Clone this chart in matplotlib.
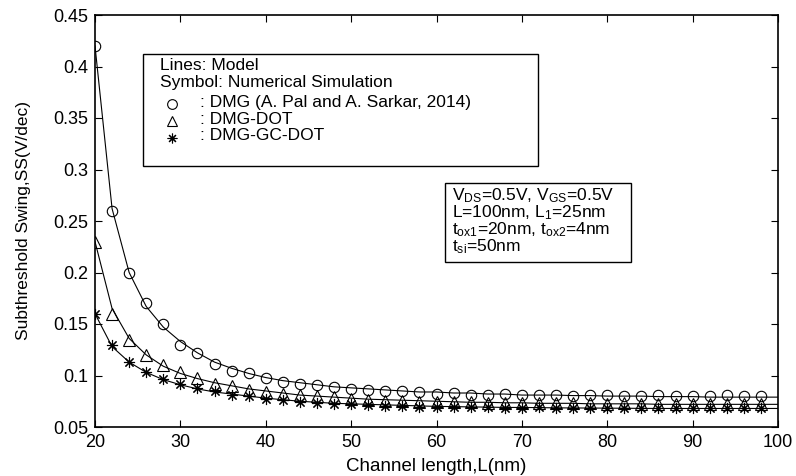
import matplotlib
matplotlib.use("Agg")
import matplotlib.pyplot as plt
from matplotlib.lines import Line2D
from matplotlib.patches import Rectangle
from matplotlib.ticker import FuncFormatter

plt.rcParams["font.family"] = ["Liberation Sans", "DejaVu Sans"]
plt.rcParams["mathtext.fontset"] = "custom"
plt.rcParams["mathtext.rm"] = "Liberation Sans"
plt.rcParams["mathtext.it"] = "Liberation Sans"

# Numerical simulation points (symbols), L = 20..98 nm
L_sim = [20, 22, 24, 26, 28, 30, 32, 34, 36, 38, 40, 42, 44, 46, 48, 50, 52, 54, 56, 58,
         60, 62, 64, 66, 68, 70, 72, 74, 76, 78, 80, 82, 84, 86, 88, 90, 92, 94, 96, 98]
ss_dmg_sim = [0.420, 0.260, 0.200, 0.170, 0.150, 0.130, 0.122, 0.111, 0.104, 0.102,
              0.098, 0.094, 0.092, 0.091, 0.089, 0.087, 0.086, 0.085, 0.085, 0.0835,
              0.0825, 0.083, 0.0815, 0.0815, 0.0825, 0.081, 0.081, 0.0815, 0.0805, 0.081,
              0.081, 0.0805, 0.0805, 0.081, 0.0805, 0.0805, 0.0805, 0.081, 0.0805, 0.0805]
ss_dot_sim = [0.230, 0.160, 0.134, 0.120, 0.110, 0.103, 0.098, 0.092, 0.090, 0.086,
              0.0835, 0.082, 0.081, 0.080, 0.079, 0.077, 0.076, 0.0755, 0.075, 0.0745,
              0.0745, 0.074, 0.074, 0.0735, 0.0735, 0.073, 0.0735, 0.073, 0.073, 0.073,
              0.0725, 0.073, 0.0725, 0.0725, 0.0725, 0.0725, 0.0725, 0.0725, 0.0725, 0.0725]
ss_gcdot_sim = [0.160, 0.130, 0.1135, 0.103, 0.097, 0.0916, 0.088, 0.0845, 0.0815, 0.0797,
                0.0775, 0.0758, 0.0742, 0.0732, 0.0723, 0.072, 0.071, 0.0703, 0.070, 0.0695,
                0.069, 0.069, 0.069, 0.069, 0.0685, 0.0685, 0.069, 0.0685, 0.0685, 0.0685,
                0.068, 0.0685, 0.068, 0.0685, 0.068, 0.068, 0.068, 0.068, 0.068, 0.068]

# Model curves (lines), L = 20..100 nm
L_model = [20, 22, 24, 26, 28, 30, 32, 34, 36, 38, 40, 42, 44, 46, 48, 50, 52, 54, 56, 58,
           60, 62, 64, 66, 68, 70, 72, 74, 76, 78, 80, 82, 84, 86, 88, 90, 92, 94, 96, 98, 100]
ss_dmg_model = [0.420, 0.262, 0.200, 0.167, 0.147, 0.133, 0.122, 0.113, 0.107, 0.102,
                0.098, 0.095, 0.093, 0.091, 0.089, 0.088, 0.087, 0.086, 0.085, 0.084,
                0.084, 0.083, 0.083, 0.082, 0.082, 0.081, 0.081, 0.081, 0.0805, 0.0805,
                0.080, 0.080, 0.080, 0.0795, 0.0795, 0.0795, 0.079, 0.079, 0.079, 0.079, 0.079]
ss_dot_model = [0.230, 0.165, 0.136, 0.120, 0.109, 0.102, 0.097, 0.093, 0.090, 0.087,
                0.085, 0.083, 0.081, 0.080, 0.079, 0.078, 0.077, 0.0765, 0.076, 0.0755,
                0.075, 0.0745, 0.074, 0.074, 0.0735, 0.0735, 0.073, 0.073, 0.073, 0.0725,
                0.0725, 0.0725, 0.0725, 0.072, 0.072, 0.072, 0.072, 0.072, 0.072, 0.072, 0.072]
ss_gcdot_model = [0.160, 0.128, 0.113, 0.103, 0.096, 0.091, 0.087, 0.084, 0.082, 0.080,
                  0.078, 0.0765, 0.075, 0.074, 0.073, 0.0725, 0.072, 0.0715, 0.071, 0.0705,
                  0.070, 0.0698, 0.0695, 0.0693, 0.069, 0.069, 0.0688, 0.0686, 0.0685, 0.0684,
                  0.0683, 0.0682, 0.0681, 0.068, 0.068, 0.068, 0.068, 0.068, 0.068, 0.068, 0.068]

x_ticks = [20, 30, 40, 50, 60, 70, 80, 90, 100]
y_ticks = [0.05, 0.1, 0.15, 0.2, 0.25, 0.3, 0.35, 0.4, 0.45]

W, H = 796, 476
fig = plt.figure(figsize=(W / 100, H / 100), dpi=100)
ax = fig.add_axes([95 / W, 1 - 427 / H, (778 - 95) / W, (427 - 15) / H])

star = (8, 2, 0)
ax.plot(L_model, ss_dmg_model, color="black", lw=0.8)
ax.plot(L_model, ss_dot_model, color="black", lw=0.8)
ax.plot(L_model, ss_gcdot_model, color="black", lw=0.8)
ax.plot(L_sim, ss_dmg_sim, ls="none", marker="o", ms=7.5, mfc="none", mec="black", mew=0.8)
ax.plot(L_sim, ss_dot_sim, ls="none", marker="^", ms=8, mfc="none", mec="black", mew=0.8)
ax.plot(L_sim, ss_gcdot_sim, ls="none", marker=star, ms=8, mec="black", mew=0.8)

ax.set_xlim(20, 100)
ax.set_ylim(0.05, 0.45)
ax.set_xticks(x_ticks)
ax.set_yticks(y_ticks)
ax.yaxis.set_major_formatter(FuncFormatter(lambda v, p: "%g" % v))
ax.tick_params(direction="in", length=5, width=0.8, top=True, right=True,
               labelsize=13, pad=5)
for s in ax.spines.values():
    s.set_linewidth(1.2)

ax.set_xlabel("Channel length,L(nm)", fontsize=13.5, labelpad=5)
ax.set_ylabel("Subthreshold Swing,SS(V/dec)", fontsize=12.5, labelpad=16)


def fx(x):
    return x / W


def fy(y):
    return 1 - y / H


# legend box
fig.add_artist(Rectangle((fx(143), fy(166)), fx(538) - fx(143), fy(54) - fy(166),
                         transform=fig.transFigure, fill=False, ec="black", lw=1.0))
fs = 12.5
fig.text(fx(160), fy(66), "Lines: Model", fontsize=fs, va="center")
fig.text(fx(160), fy(83), "Symbol: Numerical Simulation", fontsize=fs, va="center")
rows = [("o", ": DMG (A. Pal and A. Sarkar, 2014)", 102),
        ("^", ": DMG-DOT", 119),
        (star, ": DMG-GC-DOT", 136)]
for m, label, y in rows:
    fig.add_artist(Line2D([fx(172)], [fy(y + 2)], marker=m, ms=7, mfc="none", mec="black",
                          mew=0.8, transform=fig.transFigure))
    fig.text(fx(200), fy(y), label, fontsize=fs, va="center")

# parameter box
fig.add_artist(Rectangle((fx(445), fy(262)), fx(631) - fx(445), fy(183) - fy(262),
                         transform=fig.transFigure, fill=False, ec="black", lw=1.0))
params = [r"V$_{\rm DS}$=0.5V, V$_{\rm GS}$=0.5V",
          r"L=100nm, L$_{\rm 1}$=25nm",
          r"t$_{\rm ox1}$=20nm, t$_{\rm ox2}$=4nm",
          r"t$_{\rm si}$=50nm"]
for i, t in enumerate(params):
    fig.text(fx(452), fy(196 + i * 17), t, fontsize=fs, va="center")

fig.savefig("out.png", dpi=100)
